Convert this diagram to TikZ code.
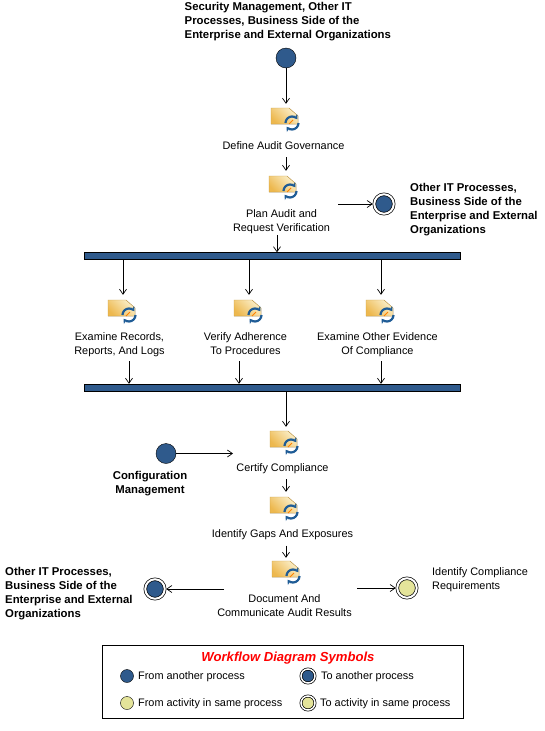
\documentclass[tikz,border=0pt]{standalone}
\usepackage{fontspec}
\setmainfont{Liberation Sans}
\usepackage{xcolor}
\usetikzlibrary{arrows.meta, positioning, shadings}

\definecolor{procblue}{HTML}{2F5A8C}
\definecolor{procyellow}{HTML}{E4E49A}
\definecolor{folderlight}{HTML}{FBF0CC}
\definecolor{folderdark}{HTML}{EDB84E}
\definecolor{cycleblue}{HTML}{1F5C96}

\tikzset{
    struts/.style={execute at begin node=\strut, execute at end node=\strut},
    lbl/.style={inner sep=0pt, align=center, xshift=-2.5pt, yshift=-1pt, struts, font=\fontsize{10.9}{14}\selectfont},
    boldlbl/.style={inner sep=0pt, align=left, yshift=-1pt, struts, font=\fontsize{11.35}{14}\selectfont\bfseries},
    leftlbl/.style={inner sep=0pt, anchor=west, align=left, struts, font=\fontsize{10.9}{14}\selectfont},
    iconbox/.style={inner sep=0pt, minimum width=30pt, minimum height=22pt},
    bar/.style={draw=black, fill=procblue, inner sep=0pt, minimum width=376pt, minimum height=7pt},
    srcdot/.style={circle, draw=black, fill=#1, inner sep=0pt, minimum size=20pt},
    srcdot/.default=procblue,
    enddot/.style={circle, draw=black, fill=#1, inner sep=0pt, minimum size=19.5pt,
        line width=0.7pt, double=white, double distance=2pt, outer sep=1.5pt},
    enddot/.default=procblue,
    flow/.style={-{Straight Barb[length=5pt,width=7pt]}, black, line width=0.7pt},
    activity/.pic={
        \fill[left color=folderdark, right color=folderlight, shading angle=135, draw=folderdark!85!black, line width=0.4pt]
            (-15,-11) -- (3,-11) -- (12,-3) -- (12,5) -- (-15,5) -- cycle;
        \draw[orange, line width=0.8pt] (3,5) -- (7,1);
        \draw[cycleblue, line width=2.2pt, -{Stealth[length=4.5pt,width=6pt]}] (-0.5,4) arc[start angle=180, end angle=325, radius=6.5];
        \draw[cycleblue, line width=2.2pt, -{Stealth[length=4.5pt,width=6pt]}] (12.5,4) arc[start angle=0, end angle=145, radius=6.5];
    }
}

\begin{document}
\begin{tikzpicture}[x=1pt, y=-1pt, node distance=26pt, on grid]
    \useasboundingbox (0,0) rectangle (545,731);

    % Upper part
    \node[boldlbl, anchor=north west] (toptxt) at (184.5,1.5) {Security Management, Other IT\\Processes, Business Side of the\\Enterprise and External Organizations};
    \node[srcdot] (start) at (286,58) {};
    \node[iconbox] (gov) at (286,119) {};
    \node[lbl, below=26.5pt of gov] (govtxt) {Define Audit Governance};
    \node[iconbox] (plan) at (284,187) {};
    \node[lbl, below=34.5pt of plan] (plantxt) {Plan Audit and\\Request Verification};
    \node[enddot] (out1) at (384,204) {};
    \node[boldlbl, anchor=west] (out1txt) at (410,209.5) {Other IT Processes,\\Business Side of the\\Enterprise and External\\Organizations};
    \coordinate (planout) at (338,204);

    % First bar and the three activities
    \node[bar] (fork) at (272,256) {};
    \node[iconbox] (rec) at (123,311) {};
    \node[iconbox] (adh) at (249,311) {};
    \node[iconbox] (evi) at (381,311) {};
    \node[lbl, below=33.5pt of rec, xshift=-1pt] (rectxt) {Examine Records,\\Reports, And Logs};
    \node[lbl, below=33.5pt of adh, xshift=-1pt] (adhtxt) {Verify Adherence\\To Procedures};
    \node[lbl, below=33.5pt of evi, xshift=-1pt] (evitxt) {Examine Other Evidence\\Of Compliance};
    \node[bar] (join) at (272,387.5) {};

    % Lower part
    \node[iconbox] (cert) at (285,442) {};
    \node[lbl, below=25.5pt of cert] (certtxt) {Certify Compliance};
    \node[srcdot] (conf) at (166,453.5) {};
    \node[boldlbl, align=center] (conftxt) at (150,483.5) {Configuration\\Management};
    \coordinate (certin) at (233,453.5);
    \node[iconbox] (gaps) at (285,508) {};
    \node[lbl, below=25.5pt of gaps] (gapstxt) {Identify Gaps And Exposures};
    \node[iconbox] (doc) at (287,572) {};
    \node[lbl, below=34.5pt of doc] (doctxt) {Document And\\Communicate Audit Results};
    \coordinate (docleft) at (224,589);
    \coordinate (docright) at (357,588);
    \node[enddot] (out2) at (155,589) {};
    \node[enddot=procyellow] (out3) at (407,588) {};
    \node[boldlbl, anchor=west] (out2txt) at (5,593.5) {Other IT Processes,\\Business Side of the\\Enterprise and External\\Organizations};
    \node[leftlbl] (out3txt) at (432,580.5) {Identify Compliance\\Requirements};

    % Legend
    \node[draw=black, line width=0.8pt, inner sep=0pt, minimum width=361pt, minimum height=73pt] (legend) at (282.5,681.5) {};
    \node[inner sep=0pt, font=\fontsize{13.1}{14}\selectfont\bfseries\itshape, text=red] (legtitle) at (288,658) {Workflow Diagram Symbols};
    \node[srcdot, minimum size=13pt] (leg1) at (127,676) {};
    \node[enddot, minimum size=14pt, double distance=1.5pt] (leg2) at (308,676) {};
    \node[srcdot=procyellow, minimum size=13pt] (leg3) at (127,703) {};
    \node[enddot=procyellow, minimum size=14pt, double distance=1.5pt] (leg4) at (308,703) {};
    \node[leftlbl] (leg1txt) at (138,677) {From another process};
    \node[leftlbl] (leg2txt) at (321,677) {To another process};
    \node[leftlbl] (leg3txt) at (138,704) {From activity in same process};
    \node[leftlbl] (leg4txt) at (320,704) {To activity in same process};

    % Icons
    \foreach \n in {gov, plan, rec, adh, evi, cert, gaps, doc}
        \pic at (\n) {activity};

    % Connectors
    \path[flow]
    (start) edge ([yshift=4pt]start |- gov.north)
    ([yshift=-3.5pt]start |- govtxt.south) edge ([yshift=5pt]start |- plan.north)
    (planout) edge (out1)
    ([xshift=-4.5pt,yshift=1pt]plantxt.south) edge ([xshift=-4.5pt]plantxt.south |- fork.north)
    (rec |- fork.south) edge ([yshift=5pt]rec.north)
    (adh |- fork.south) edge ([yshift=5pt]adh.north)
    (evi |- fork.south) edge ([yshift=5pt]evi.north)
    ([xshift=9.5pt,yshift=-2.5pt]rectxt.south) edge ([xshift=9.5pt]rectxt.south |- join.north)
    ([xshift=-6.5pt,yshift=-2.5pt]adhtxt.south) edge ([xshift=-6.5pt]adhtxt.south |- join.north)
    ([xshift=3.5pt,yshift=-2.5pt]evitxt.south) edge ([xshift=3.5pt]evitxt.south |- join.north)
    (start |- join.south) edge ([yshift=4pt]start |- cert.north)
    (conf) edge (certin)
    ([yshift=-3.5pt]start |- certtxt.south) edge ([yshift=5pt]start |- gaps.north)
    ([yshift=-4pt]start |- gapstxt.south) edge ([yshift=3pt]start |- doc.north)
    (docleft) edge (out2)
    (docright) edge (out3);
\end{tikzpicture}
\end{document}
